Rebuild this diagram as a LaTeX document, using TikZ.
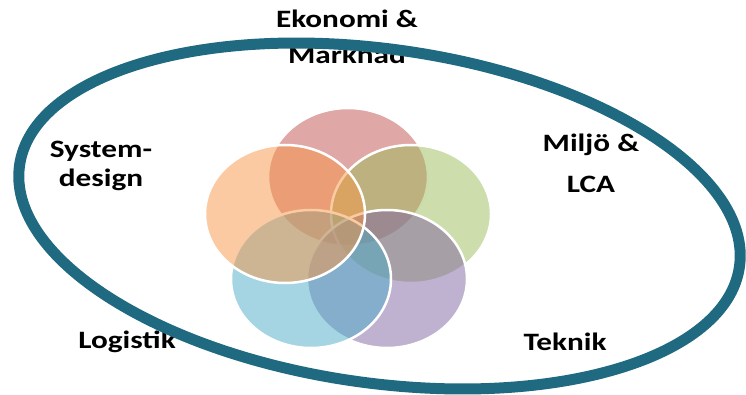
\documentclass[tikz,border=0pt]{standalone}
\usepackage{fontspec}
\setmainfont{Carlito}
\newfontfamily\widefont{Carlito}[FakeStretch=1.25]
\usetikzlibrary{shapes.geometric}
\definecolor{ring}{RGB}{31,106,128}
\definecolor{cRed}{RGB}{192,80,77}
\definecolor{cGreen}{RGB}{155,187,89}
\definecolor{cPurple}{RGB}{128,100,162}
\definecolor{cAqua}{RGB}{75,172,198}
\definecolor{cOrange}{RGB}{247,150,70}
\begin{document}
\begin{tikzpicture}[x=1pt, y=-1pt]

\tikzstyle{lab}=[font=\widefont\fontsize{25}{30}\selectfont\bfseries, align=center, inner sep=0pt, anchor=base];
\tikzstyle{circ}=[ellipse, draw=white, line width=2.5pt, fill opacity=0.5, minimum width=160pt, minimum height=138pt, inner sep=0pt];
\useasboundingbox (0,0) rectangle (746,395);

\node[lab] (eko) at (347,64) {Ekonomi \&\\[6pt]Marknad};
\node[lab] (sys) at (101,187) {System-\\[-1pt]design};
\node[lab] (mil) at (591,193) {Miljö \&\\[11pt]LCA};
\node[lab] (log) at (127,348) {Logistik};
\node[lab] (tek) at (565,350) {Teknik};

\node[circ, fill=cRed] (pEko) at (348,177) {};
\node[circ, fill=cGreen] (pMil) at (411,214) {};
\node[circ, fill=cPurple] (pTek) at (387,279) {};
\node[circ, fill=cAqua] (pLog) at (311,279) {};
\node[circ, fill=cOrange] (pSys) at (285,214) {};

\node[ellipse, draw=ring, line width=11pt, rotate=-8, minimum width=727pt, minimum height=334pt] (rim) at (379.5,216) {};
\end{tikzpicture}
\end{document}
